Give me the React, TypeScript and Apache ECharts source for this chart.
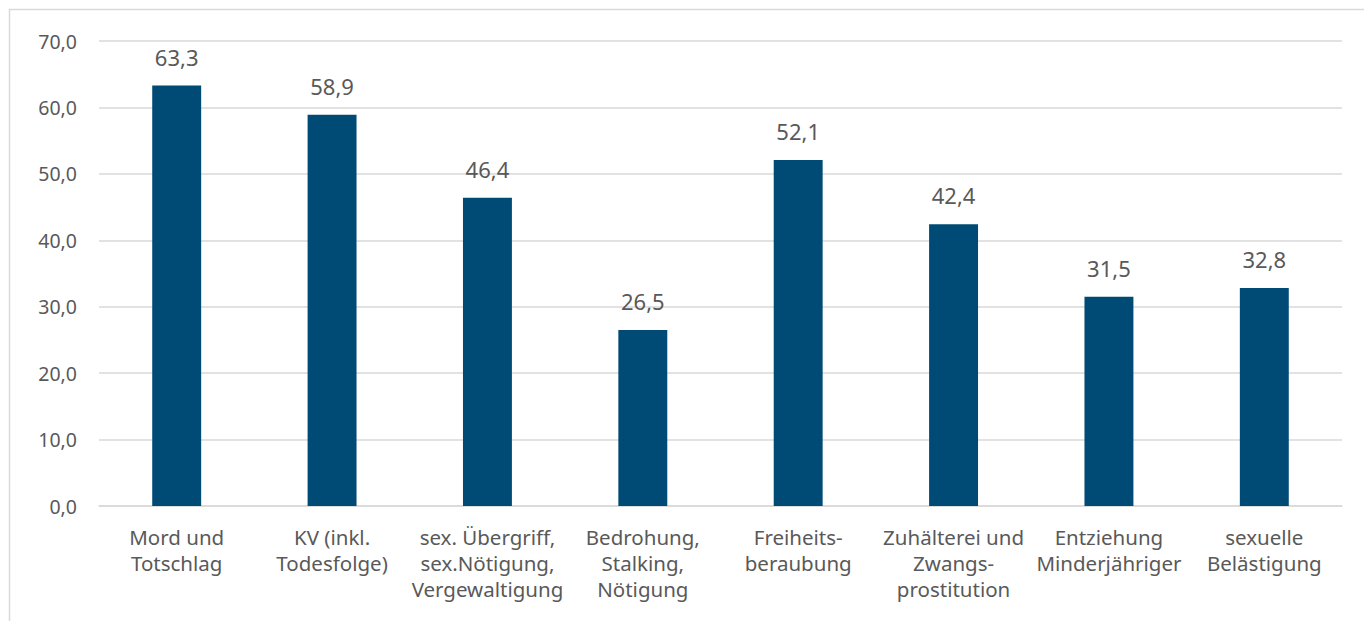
import React, { useEffect, useRef } from "react";
import * as echarts from "echarts";

const categories = [
  "Mord und\nTotschlag",
  "KV (inkl.\nTodesfolge)",
  "sex. Übergriff,\nsex.Nötigung,\nVergewaltigung",
  "Bedrohung,\nStalking,\nNötigung",
  "Freiheits-\nberaubung",
  "Zuhälterei und\nZwangs-\nprostitution",
  "Entziehung\nMinderjähriger",
  "sexuelle\nBelästigung",
];
const values = [63.3, 58.9, 46.4, 26.5, 52.1, 42.4, 31.5, 32.8];

const fmt = (v: number) => v.toFixed(1).replace(".", ",");

export default function App() {
  const ref = useRef<HTMLDivElement>(null);
  useEffect(() => {
    document.body.style.margin = "0";
    const chart = echarts.init(ref.current!, null, { renderer: "svg" });
    const font = "'Noto Sans', 'Open Sans', sans-serif";
    chart.setOption({
      animation: false,
      backgroundColor: "#ffffff",
      textStyle: { fontFamily: font },
      graphic: [
        {
          type: "rect",
          shape: { x: 9.5, y: 9.5, width: 1400, height: 700 },
          style: { fill: "none", stroke: "#d9d9d9", lineWidth: 1.5 },
          silent: true,
        },
      ],
      grid: { left: 99, right: 22, top: 41, bottom: 115, containLabel: false },
      xAxis: {
        type: "category",
        data: categories,
        axisLine: { show: true, lineStyle: { color: "#d9d9d9", width: 1.5 } },
        axisTick: { show: false },
        axisLabel: {
          color: "#595959",
          fontSize: 20.5,
          lineHeight: 26,
          margin: 18,
          interval: 0,
          fontFamily: font,
        },
      },
      yAxis: {
        type: "value",
        min: 0,
        max: 70,
        interval: 10,
        axisLine: { show: false },
        axisTick: { show: false },
        splitLine: { lineStyle: { color: "#d9d9d9", width: 1.5 } },
        axisLabel: {
          color: "#595959",
          fontSize: 19.5,
          margin: 22,
          formatter: (v: number) => fmt(v),
          fontFamily: font,
        },
      },
      series: [
        {
          type: "bar",
          data: values,
          barWidth: "31.5%",
          itemStyle: { color: "#004B76" },
          label: {
            show: true,
            position: "top",
            distance: 18,
            color: "#595959",
            fontSize: 22,
            fontFamily: font,
            formatter: (p: any) => fmt(p.value),
          },
        },
      ],
    });
    return () => chart.dispose();
  }, []);
  return <div ref={ref} style={{ width: 1364, height: 621 }} />;
}
